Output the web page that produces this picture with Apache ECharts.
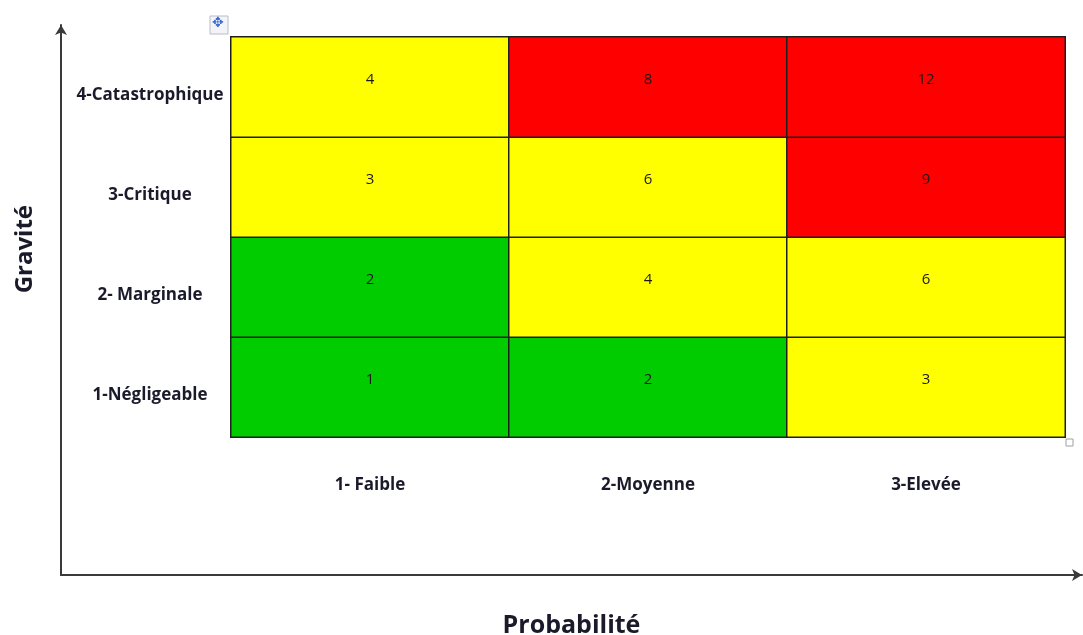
<!DOCTYPE html>
<html>
<head>
<meta charset="utf-8">
<script src="https://cdn.jsdelivr.net/npm/echarts@6/dist/echarts.min.js"></script>
<style>
  html, body { margin: 0; padding: 0; background: #ffffff; }
  #chart { width: 1083px; height: 635px; }
</style>
</head>
<body>
<div id="chart"></div>
<script>
// Probability levels (columns) and severity levels (rows, bottom to top)
const probabilite = ['1- Faible', '2-Moyenne', '3-Elevée'];
const gravite = ['1-Négligeable', '2- Marginale', '3-Critique', '4-Catastrophique'];

// Risk score per severity row (bottom to top), one value per probability column
const rowNegligeable = [1, 2, 3];
const rowMarginale = [2, 4, 6];
const rowCritique = [3, 6, 9];
const rowCatastrophique = [4, 8, 12];

const rows = [rowNegligeable, rowMarginale, rowCritique, rowCatastrophique];
const cells = [];
rows.forEach(function (row, y) {
  row.forEach(function (v, x) { cells.push([x, y, v]); });
});

const FONT = '"Open Sans", Lato, sans-serif';
const TEXT = '#1a1a2a';

const chart = echarts.init(document.getElementById('chart'), null, { renderer: 'canvas' });
chart.setOption({
  backgroundColor: '#ffffff',
  animation: false,
  grid: [
    { left: 231, top: 37, right: 18, bottom: 198, containLabel: false, outerBoundsMode: 'none' },
    { left: 61, top: 25, right: 1, bottom: 60, containLabel: false, outerBoundsMode: 'none' }
  ],
  xAxis: [
    {
      type: 'category', gridIndex: 0, data: probabilite,
      axisLine: { show: false }, axisTick: { show: false }, splitLine: { show: false },
      axisLabel: { margin: 40, color: TEXT, fontFamily: FONT, fontWeight: 'bold', fontSize: 17 }
    },
    {
      type: 'value', gridIndex: 1, min: 0, max: 1,
      axisLine: { show: true, symbol: ['none', 'arrow'], symbolSize: [9, 10],
                  lineStyle: { color: '#3a3a3a', width: 2 } },
      axisTick: { show: false }, axisLabel: { show: false }, splitLine: { show: false },
      name: 'Probabilité', nameLocation: 'middle', nameGap: 38,
      nameTextStyle: { color: TEXT, fontFamily: FONT, fontWeight: 'bold', fontSize: 25 }
    }
  ],
  yAxis: [
    {
      type: 'category', gridIndex: 0, data: gravite,
      axisLine: { show: false }, axisTick: { show: false }, splitLine: { show: false },
      axisLabel: { margin: 81, align: 'center', verticalAlign: 'top',
                   color: TEXT, fontFamily: FONT, fontWeight: 'bold', fontSize: 17 }
    },
    {
      type: 'value', gridIndex: 1, min: 0, max: 1,
      axisLine: { show: true, symbol: ['none', 'arrow'], symbolSize: [9, 10],
                  lineStyle: { color: '#3a3a3a', width: 2 } },
      axisTick: { show: false }, axisLabel: { show: false }, splitLine: { show: false }
    }
  ],
  visualMap: {
    show: false, type: 'piecewise', seriesIndex: 0, dimension: 2,
    pieces: [
      { lte: 2, color: '#00cc00' },
      { gt: 2, lte: 6, color: '#ffff00' },
      { gt: 6, color: '#ff0000' }
    ]
  },
  series: [
    {
      type: 'heatmap', xAxisIndex: 0, yAxisIndex: 0, data: cells,
      itemStyle: { borderColor: '#1e1e1e', borderWidth: 1.5 },
      label: { show: true, offset: [0, -7], color: '#1a1a1a', fontFamily: FONT, fontSize: 15 },
      emphasis: { disabled: true }
    }
  ],
  graphic: [
    {
      type: 'text', left: 13, top: 205, rotation: Math.PI / 2,
      style: { text: 'Gravité', fill: TEXT, font: 'bold 24px ' + FONT }
    },
    // table handle icons
    { type: 'rect', shape: { x: 210, y: 16, width: 18, height: 18 },
      style: { fill: '#f2f4f8', stroke: '#b8bcc8', lineWidth: 1 } },
    { type: 'text', left: 212, top: 16,
      style: { text: '✥', fill: '#3a6bd0', font: '14px "DejaVu Sans"' } },
    { type: 'rect', shape: { x: 1066, y: 439, width: 7, height: 7 },
      style: { fill: '#ffffff', stroke: '#a0a0a0', lineWidth: 1 } }
  ]
});
</script>
</body>
</html>
